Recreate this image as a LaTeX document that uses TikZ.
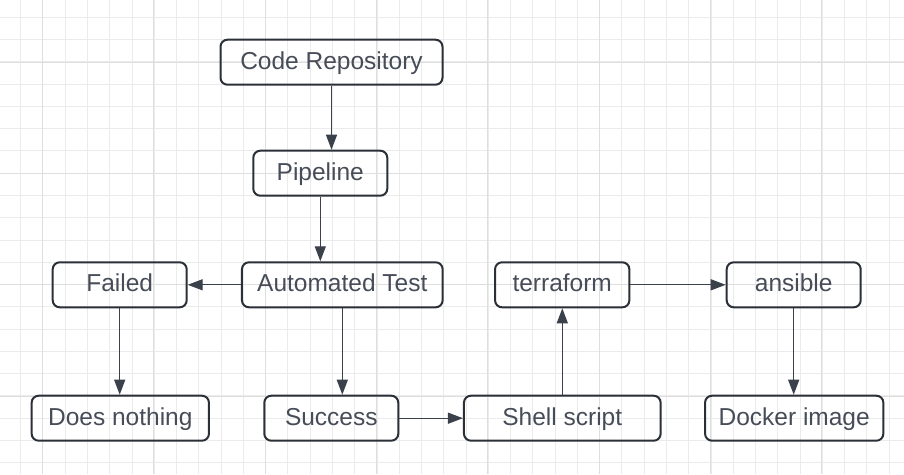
\documentclass[tikz,border=0pt]{standalone}
\usepackage{fontspec}
\setmainfont{Liberation Sans}
\usetikzlibrary{arrows.meta}
\definecolor{gridminor}{HTML}{EBEBEB}
\definecolor{gridmajor}{HTML}{DEDEDE}
\definecolor{boxline}{HTML}{2B3038}
\definecolor{boxtext}{HTML}{474D58}
\definecolor{arrowcol}{HTML}{3A414A}
\tikzset{
  minorline/.style={draw=gridminor, line width=1pt},
  majorline/.style={draw=gridmajor, line width=1pt},
  box/.style={draw=boxline, line width=2pt, rounded corners=7pt,
    minimum height=45pt, inner sep=0pt, text=boxtext,
    text height=17.5pt, text depth=3.4pt,
    font=\fontsize{24.5pt}{28pt}\selectfont},
  conn/.style={draw=arrowcol, line width=1.3pt,
    -{Triangle[length=15pt,width=11pt]}},
}
\begin{document}
\begin{tikzpicture}[x=1pt,y=-1pt]
\useasboundingbox (0,0) rectangle (904,474);
\fill[white] (0,0) rectangle (904,474);
% grid
\foreach \k in {0,...,40} \draw[minorline] ({20.7+\k*22.27},0) -- ({20.7+\k*22.27},474);
\foreach \k in {0,...,21} \draw[minorline] (0,{17.3+\k*22.27}) -- (904,{17.3+\k*22.27});
\foreach \k in {0,...,7} \draw[majorline] ({42.3+\k*111.35},0) -- ({42.3+\k*111.35},474);
\foreach \k in {0,...,3} \draw[majorline] (0,{62+\k*111.35}) -- (904,{62+\k*111.35});
% nodes
\node[box, minimum width=222pt] (cr)   at (331.5,62.2)  {Code Repository};
\node[box, minimum width=134pt] (pipe) at (320.3,173.2) {Pipeline};
\node[box, minimum width=200.7pt] (at)  at (342.3,284.8) {Automated Test};
\node[box, minimum width=134pt] (fail) at (119.7,284.8) {Failed};
\node[box, minimum width=177.3pt] (dn)  at (120.3,418.2) {Does nothing};
\node[box, minimum width=134pt] (succ) at (331.3,418.2) {Success};
\node[box, minimum width=134.3pt] (tf)  at (562.2,284.8) {terraform};
\node[box, minimum width=134pt] (ans)  at (793.7,284.8) {ansible};
\node[box, minimum width=196.7pt] (sh)  at (562.3,418.2) {Shell script};
\node[box, minimum width=178.3pt] (dock) at (794.2,418.2) {Docker image};
% connectors
\draw[conn] (cr.south) -- (cr.south |- pipe.north);
\draw[conn] (pipe.south) -- (pipe.south |- at.north);
\draw[conn] (at.west) -- (fail.east);
\draw[conn] (fail.south) -- (fail.south |- dn.north);
\draw[conn] (at.south) -- (at.south |- succ.north);
\draw[conn] (succ.east) -- (sh.west);
\draw[conn] (sh.north) -- (sh.north |- tf.south);
\draw[conn] (tf.east) -- (ans.west);
\draw[conn] (ans.south) -- (ans.south |- dock.north);
\end{tikzpicture}
\end{document}
